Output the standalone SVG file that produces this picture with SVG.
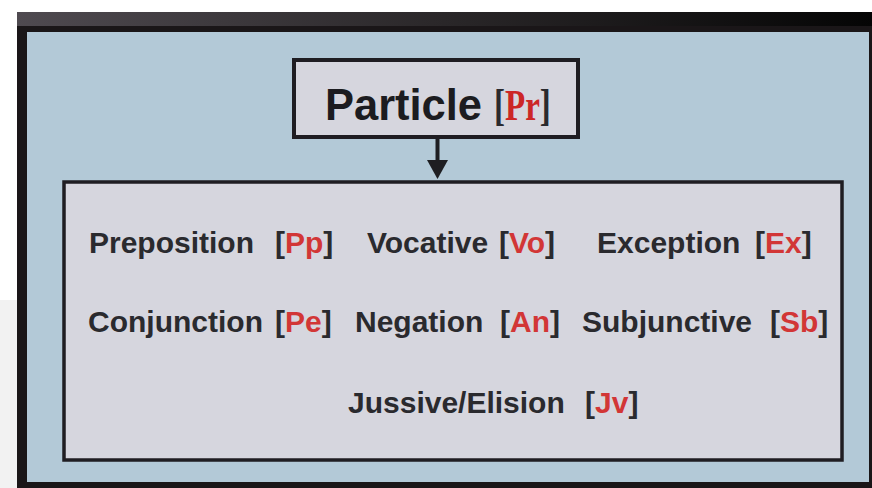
<svg xmlns="http://www.w3.org/2000/svg" width="872" height="488" viewBox="0 0 872 488">
  <defs>
    <linearGradient id="topband" x1="0" y1="0" x2="1" y2="0">
      <stop offset="0" stop-color="#4f4a50"/>
      <stop offset="0.5" stop-color="#2a2729"/>
      <stop offset="1" stop-color="#050505"/>
    </linearGradient>
    <style>
      .box { fill: #d6d6de; stroke: #1f1d22; }
      .lbl { font-family: "Liberation Sans", Arial, sans-serif; font-weight: bold; font-size: 30px; fill: #2a2a2e; }
      .red { fill: #d23636; }
      .title { font-family: "Liberation Sans", Arial, sans-serif; font-weight: bold; font-size: 45px; fill: #1c1c20; }
      .titleb { font-family: "Liberation Serif", "Times New Roman", serif; font-weight: bold; font-size: 44px; fill: #2a2a2e; }
      .titler { fill: #cc2626; }
      .conn { stroke: #1e1e22; stroke-width: 4; fill: none; }
      .head { fill: #1e1e22; }
    </style>
  </defs>

  <!-- frame -->
  <rect x="0" y="0" width="872" height="488" fill="#ffffff"/>
  <rect x="0" y="300" width="17" height="188" fill="#f2f2f2"/>
  <rect x="17" y="12" width="855" height="476" fill="#1a1618"/>
  <rect x="17" y="12" width="855" height="14" fill="url(#topband)"/>
  <rect x="27" y="32" width="842" height="450" fill="#b3c9d7"/>

  <g id="connectors">
    <line class="conn" x1="437.5" y1="139" x2="437.5" y2="162"/>
    <polygon class="head" points="427,160 448,160 437.5,179"/>
  </g>

  <g id="particle">
    <rect class="box" x="294" y="60" width="284" height="77" stroke-width="4"/>
    <text class="title" x="325" y="120" textLength="157" lengthAdjust="spacingAndGlyphs">Particle</text>
    <text class="titleb" transform="translate(494,120) scale(0.75,1)" x="0" y="0">[<tspan class="titler">Pr</tspan>]</text>
  </g>

  <g id="categories">
    <rect class="box" x="64" y="182" width="778" height="278" stroke-width="3.5"/>
  </g>

  <g id="preposition"><text class="lbl" x="89" y="253">Preposition</text><text class="lbl" x="275" y="253">[<tspan class="red">Pp</tspan>]</text></g>
  <g id="vocative"><text class="lbl" x="367" y="253">Vocative</text><text class="lbl" x="499" y="253">[<tspan class="red">Vo</tspan>]</text></g>
  <g id="exception"><text class="lbl" x="597" y="253">Exception</text><text class="lbl" x="755" y="253">[<tspan class="red">Ex</tspan>]</text></g>

  <g id="conjunction"><text class="lbl" x="88" y="332">Conjunction</text><text class="lbl" x="275" y="332">[<tspan class="red">Pe</tspan>]</text></g>
  <g id="negation"><text class="lbl" x="355" y="332">Negation</text><text class="lbl" x="500" y="332">[<tspan class="red">An</tspan>]</text></g>
  <g id="subjunctive"><text class="lbl" x="582" y="332">Subjunctive</text><text class="lbl" x="770" y="332">[<tspan class="red">Sb</tspan>]</text></g>

  <g id="jussive"><text class="lbl" x="348" y="413">Jussive/Elision</text><text class="lbl" x="585" y="413">[<tspan class="red">Jv</tspan>]</text></g>
</svg>
